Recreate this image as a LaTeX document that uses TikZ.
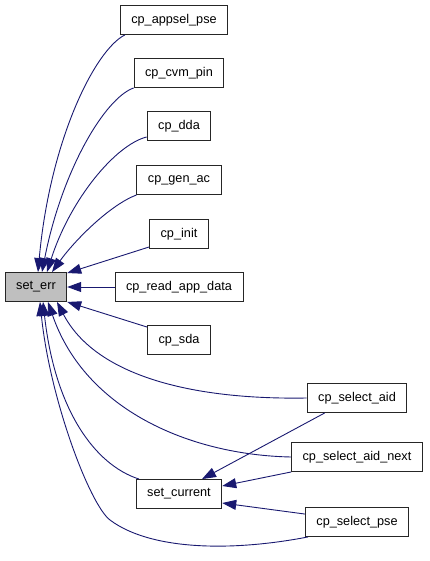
\documentclass[tikz,border=0pt]{standalone}
\usepackage{fontspec}
\setmainfont{Liberation Sans}
\usetikzlibrary{arrows.meta}
\definecolor{edgeblue}{HTML}{191970}
\definecolor{curgrey}{HTML}{BFBFBF}
\begin{document}
\begin{tikzpicture}[x=1pt,y=-1pt,
    fn/.style={draw=black!85,line width=0.9pt,fill=white,minimum height=29pt,inner xsep=11pt,inner ysep=0pt,font=\fontsize{12.7}{15}\selectfont},
    call/.style={draw=edgeblue,line width=0.9pt,-{Triangle[length=14pt,width=10pt]}}]
      \useasboundingbox (0,0) rectangle (429,561);
      \node[fn,fill=curgrey] (seterr) at (36,287) {set\_err};
      \node[fn] (appsel) at (174,20) {cp\_appsel\_pse};
      \node[fn] (cvmpin) at (179,73) {cp\_cvm\_pin};
      \node[fn] (dda) at (179,126) {cp\_dda};
      \node[fn] (genac) at (179,180) {cp\_gen\_ac};
      \node[fn] (init) at (179,234) {cp\_init};
      \node[fn] (readapp) at (179,287) {cp\_read\_app\_data};
      \node[fn] (sda) at (179,340) {cp\_sda};
      \node[fn] (setcur) at (179,494) {set\_current};
      \node[fn] (selaid) at (357,398) {cp\_select\_aid};
      \node[fn] (selnext) at (357,457) {cp\_select\_aid\_next};
      \node[fn] (selpse) at (357,522) {cp\_select\_pse};
      \draw[call] ([xshift=5]appsel.south west) .. controls (95,50) and (50,140) .. ([xshift=2]seterr.north);
      \draw[call] (cvmpin.south west) .. controls (105,98) and (62,170) .. ([xshift=6]seterr.north);
      \draw[call] ([yshift=4]dda.south west) .. controls (115,145) and (70,200) .. ([xshift=11]seterr.north);
      \draw[call] (genac.south west) .. controls (110,205) and (75,240) .. ([xshift=16]seterr.north);
      \draw[call] ([yshift=2]init.south west) -- ([yshift=-1]seterr.north east);
      \draw[call] (readapp.west) -- (seterr.east);
      \draw[call] ([yshift=-2]sda.north west) -- (seterr.south east);
      \draw[call] (selaid.west) .. controls (190,400) and (95,375) .. ([xshift=21]seterr.south);
      \draw[call] (selnext.west) .. controls (190,455) and (85,410) .. ([xshift=12]seterr.south);
      \draw[call] ([xshift=-40]setcur.north) .. controls (95,465) and (55,410) .. ([xshift=7]seterr.south);
      \draw[call] ([xshift=3]selpse.south west) .. controls (230,552) and (150,550) .. (110,520)
        .. controls (90,505) and (50,400) .. ([xshift=4]seterr.south);
      \draw[call] (selnext.south west) -- ([yshift=8]setcur.east);
      \draw[call] ([yshift=-7]selpse.north west) -- ([yshift=-9]setcur.east);
      \draw[call] ([xshift=18]selaid.south west) -- ([xshift=23]setcur.north);
    \end{tikzpicture}
\end{document}
